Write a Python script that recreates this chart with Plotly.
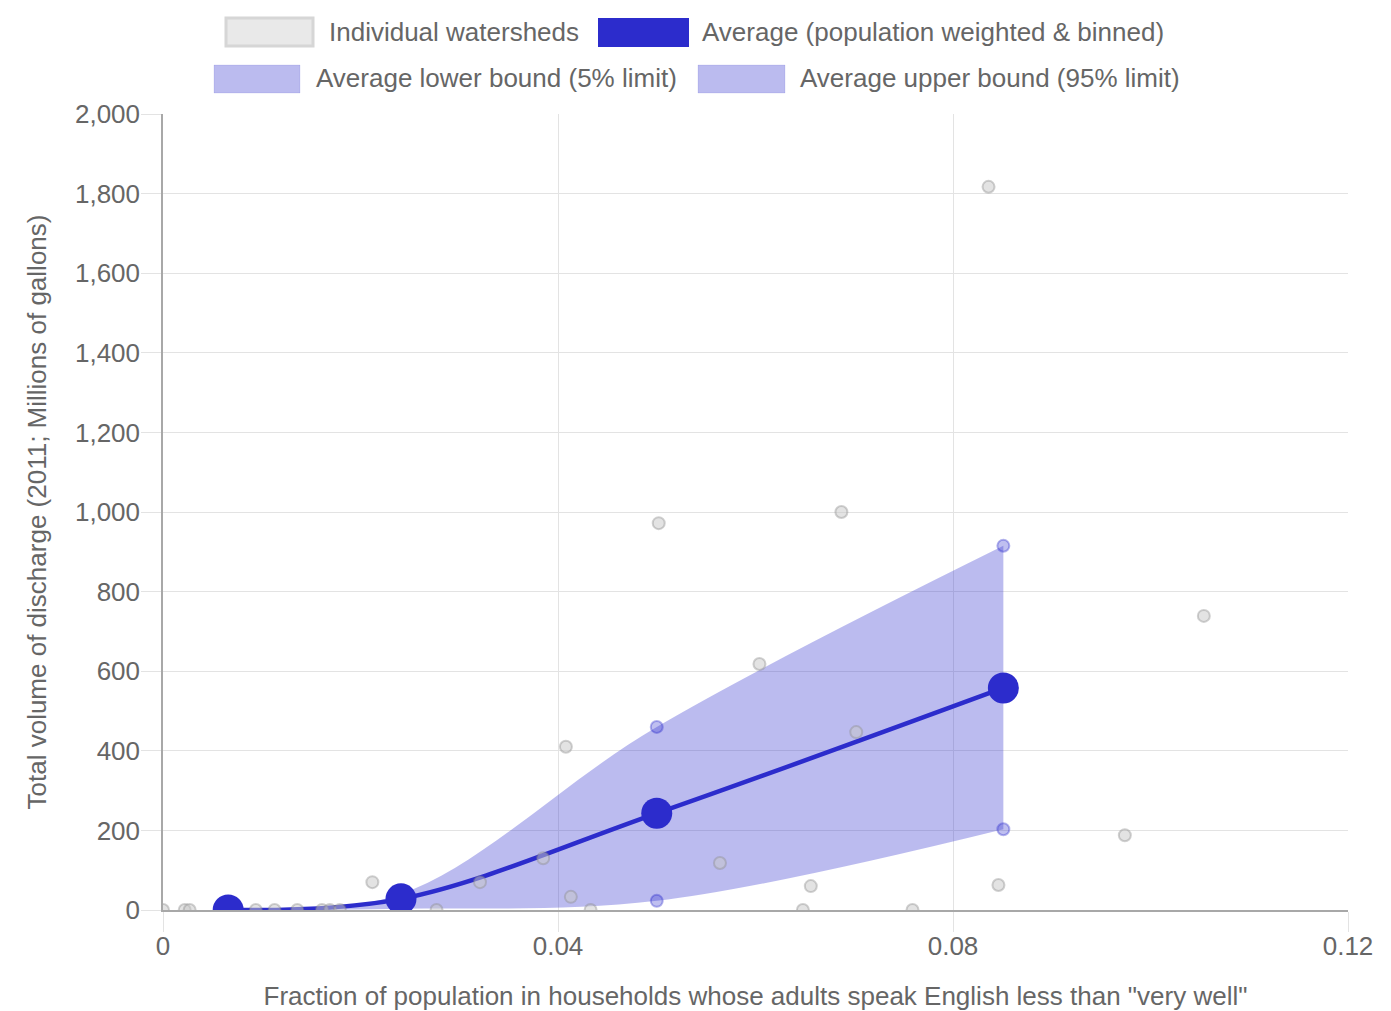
import plotly.graph_objects as go

# ---------------- data ----------------
ws_x = [0.0000, 0.0022, 0.0027, 0.0094, 0.0113, 0.0136, 0.0161, 0.0169, 0.0179,
        0.0212, 0.0277, 0.0321, 0.0385, 0.0408, 0.0413, 0.0433, 0.0502, 0.0564,
        0.0604, 0.0648, 0.0656, 0.0687, 0.0702, 0.0759, 0.0836, 0.0846, 0.0974, 0.1054]
ws_y = [0, 0, 0, 0, 0, 0, 0, 0, 0,
        70, 0, 70, 130, 410, 33, 0, 972, 118,
        618, 0, 60, 1000, 447, 0, 1817, 63, 188, 739]

avg_x = [0.0066, 0.0241, 0.0500, 0.0851]
avg_y = [0, 28, 243, 558]
low_y = [0, 3, 23, 203]
up_y = [0, 40, 460, 915]

x_ticks = [0, 0.04, 0.08, 0.12]
x_tick_text = ["0", "0.04", "0.08", "0.12"]
y_ticks = [0, 200, 400, 600, 800, 1000, 1200, 1400, 1600, 1800, 2000]

legend_labels = ["Individual watersheds", "Average (population weighted & binned)",
                 "Average lower bound (5% limit)", "Average upper bound (95% limit)"]

x_title = 'Fraction of population in households whose adults speak English less than "very well"'
y_title = "Total volume of discharge (2011; Millions of gallons)"

# ---------------- styling ----------------
OFF = 8  # page body margin
W, H = 1391 - OFF, 1011 - OFF
ML, MT = 163 - OFF, 114 - OFF
MR = W - (1348 - OFF)
MB = H - (910 - OFF)
PW, PH = W - ML - MR, H - MT - MB
FONT = "Liberation Sans, Arial, sans-serif"
TXT = "#666666"
BLUE = "rgb(44,44,204)"
FILL = "rgba(44,44,204,0.32)"


def px(x):
    # page x pixel -> paper coord
    return (x - OFF - ML) / PW


def py(y):
    # page y pixel -> paper coord
    return (H - MB - (y - OFF)) / PH


fig = go.Figure()

fig.add_trace(go.Scatter(
    x=avg_x, y=low_y, mode="lines+markers", name=legend_labels[2],
    line=dict(width=0, shape="spline", color="rgba(44,44,204,0)"),
    marker=dict(size=12, color="rgba(44,44,204,0.3)",
                line=dict(color="rgba(44,44,204,0.35)", width=2)),
    showlegend=False))
fig.add_trace(go.Scatter(
    x=avg_x, y=up_y, mode="lines+markers", name=legend_labels[3],
    line=dict(width=0, shape="spline", color="rgba(44,44,204,0)"),
    fill="tonexty", fillcolor=FILL,
    marker=dict(size=12, color="rgba(44,44,204,0.3)",
                line=dict(color="rgba(44,44,204,0.35)", width=2)),
    showlegend=False))
fig.add_trace(go.Scatter(
    x=avg_x, y=avg_y, mode="lines+markers", name=legend_labels[1],
    line=dict(width=4.5, shape="spline", color=BLUE),
    marker=dict(size=31, color=BLUE),
    showlegend=False))
fig.add_trace(go.Scatter(
    x=ws_x, y=ws_y, mode="markers", name=legend_labels[0],
    marker=dict(size=12, color="rgba(200,200,200,0.5)",
                line=dict(color="rgba(140,140,140,0.4)", width=2)),
    showlegend=False))

shapes = []
annotations = []

# manual legend (Chart.js style boxes), positions in page pixels
legend_items = [
    (226, 18, 313, 46, "#e9e9e9", "#d6d6d6", 3, 327, 32, legend_labels[0]),
    (598, 18, 689, 47, BLUE, BLUE, 0, 700, 32, legend_labels[1]),
    (214, 65, 300, 93, "rgba(44,44,204,0.32)", "rgba(44,44,204,0.1)", 1, 314, 78, legend_labels[2]),
    (698, 65, 785, 93, "rgba(44,44,204,0.32)", "rgba(44,44,204,0.1)", 1, 798, 78, legend_labels[3]),
]
for x0, y0, x1, y1, fc, lc, lw, tx, ty, label in legend_items:
    shapes.append(dict(type="rect", xref="paper", yref="paper", layer="above",
                       x0=px(x0), x1=px(x1), y0=py(y1), y1=py(y0),
                       fillcolor=fc, line=dict(color=lc, width=lw)))
    annotations.append(dict(xref="paper", yref="paper", x=px(tx), y=py(ty),
                            xanchor="left", yanchor="middle", showarrow=False,
                            text=label, font=dict(family=FONT, size=26, color=TXT)))

fig.update_layout(
    width=W, height=H,
    margin=dict(l=ML, r=MR, t=MT, b=MB, autoexpand=False),
    paper_bgcolor="white", plot_bgcolor="white",
    font=dict(family=FONT, size=26, color=TXT),
    shapes=shapes, annotations=annotations,
    showlegend=False,
    xaxis=dict(range=[0, 0.12], tickvals=x_ticks, ticktext=x_tick_text,
               showgrid=True, gridcolor="#e3e3e3", gridwidth=1,
               zeroline=False, showline=True, linecolor="#a8a8a8", linewidth=1.5,
               ticks="outside", ticklen=20, tickcolor="#e3e3e3", tickwidth=1,
               ticklabelstandoff=-8,
               tickfont=dict(family=FONT, size=26, color=TXT),
               title=dict(text=x_title, standoff=28,
                          font=dict(family=FONT, size=26, color=TXT))),
    yaxis=dict(range=[0, 2000], tickvals=y_ticks, tickformat=",",
               showgrid=True, gridcolor="#e3e3e3", gridwidth=1,
               zeroline=False, showline=True, linecolor="#a8a8a8", linewidth=1.5,
               ticks="outside", ticklen=20, tickcolor="#e3e3e3", tickwidth=1,
               ticklabelstandoff=-4,
               tickfont=dict(family=FONT, size=26, color=TXT),
               title=dict(text=y_title, standoff=21,
                          font=dict(family=FONT, size=26, color=TXT))),
)

fig.write_html("out.html")
